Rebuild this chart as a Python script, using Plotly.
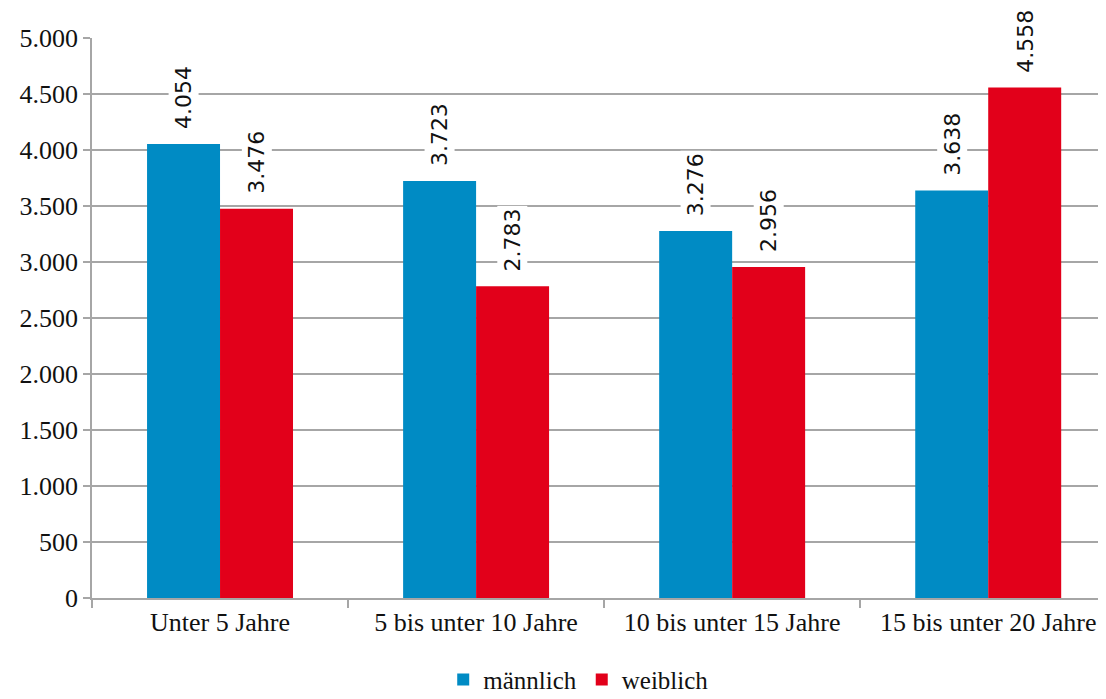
import plotly.graph_objects as go

categories = ["Unter 5 Jahre", "5 bis unter 10 Jahre", "10 bis unter 15 Jahre", "15 bis unter 20 Jahre"]
maennlich = [4054, 3723, 3276, 3638]
weiblich = [3476, 2783, 2956, 4558]
y_ticks = [0, 500, 1000, 1500, 2000, 2500, 3000, 3500, 4000, 4500, 5000]
y_ticktext = ["0", "500", "1.000", "1.500", "2.000", "2.500", "3.000", "3.500", "4.000", "4.500", "5.000"]

def fmt(v):
    return f"{v:,}".replace(",", ".")

BLUE = "#008BC4"
RED = "#E2001A"
GRID = "#A6A6A6"
SERIF = "Liberation Serif, Times New Roman, serif"

fig = go.Figure()
fig.add_trace(go.Bar(name="männlich", x=categories, y=maennlich, marker=dict(color=BLUE, line=dict(width=0))))
fig.add_trace(go.Bar(name="weiblich", x=categories, y=weiblich, marker=dict(color=RED, line=dict(width=0))))

annotations = []
for series, shift in ((maennlich, -36.5), (weiblich, 36.5)):
    for c, v in zip(categories, series):
        annotations.append(dict(
            x=c, y=v, xref="x", yref="y", text=fmt(v), showarrow=False,
            textangle=-90, xshift=shift, yanchor="bottom", yshift=12,
            bgcolor="white", borderpad=2,
            font=dict(family="DejaVu Sans", size=22, color="#111111"),
        ))

# page body has an 8px margin, so the figure is 8px smaller and margins compensate
fig.update_layout(
    width=1098, height=691,
    margin=dict(l=84, r=0, t=30, b=101, autoexpand=False),
    paper_bgcolor="white", plot_bgcolor="white",
    barmode="group", bargap=0.43, bargroupgap=0,
    font=dict(family=SERIF, size=26, color="#111111"),
    annotations=annotations,
    showlegend=True,
    legend=dict(orientation="h", x=0.48, xanchor="center", y=-0.146, yanchor="middle",
                font=dict(family=SERIF, size=25), itemwidth=30,
                traceorder="normal"),
    xaxis=dict(
        type="category", range=[-0.5, 3.46], automargin=False,
        showline=True, linecolor=GRID, linewidth=1.5,
        ticks="outside", tickson="boundaries", ticklen=8, tickcolor=GRID, tickwidth=1.5,
        showgrid=False, tickfont=dict(family=SERIF, size=26),
    ),
    yaxis=dict(
        range=[0, 5000], tickvals=y_ticks, ticktext=y_ticktext, automargin=False,
        showline=True, linecolor=GRID, linewidth=1.5,
        ticks="outside", ticklen=7, tickcolor=GRID, tickwidth=1.5,
        showgrid=True, gridcolor=GRID, gridwidth=1.5, zeroline=False,
        tickfont=dict(family=SERIF, size=26),
    ),
)

fig.write_html("out.html")
